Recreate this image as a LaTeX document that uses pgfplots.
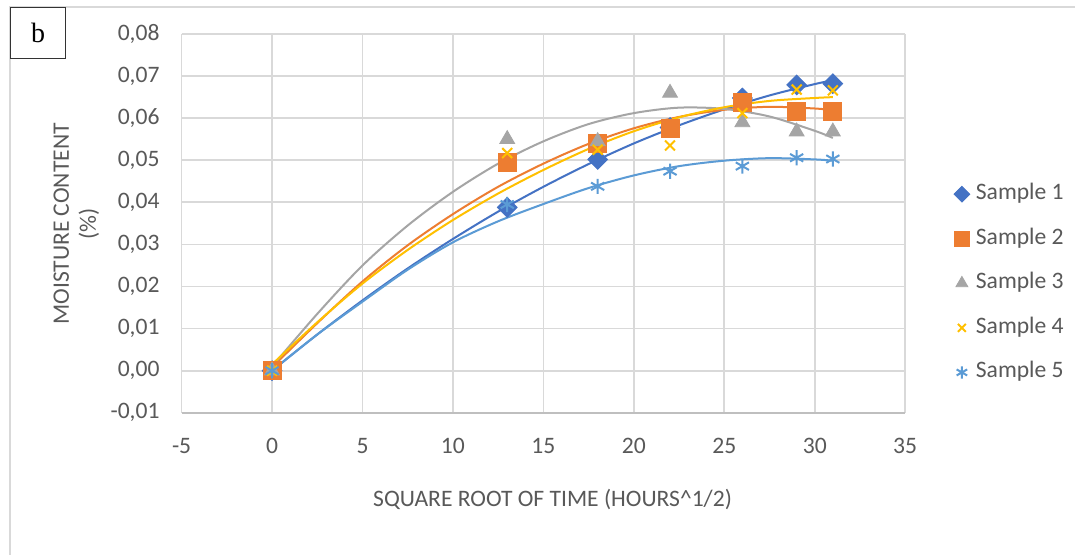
\documentclass[border=0pt]{standalone}
\usepackage{fontspec}
\setmainfont{Carlito}
\newfontfamily\seriffont{Liberation Serif}
\usepackage{pgfplots}
\pgfplotsset{compat=1.18}
\definecolor{sone}{HTML}{4472C4}
\definecolor{stwo}{HTML}{ED7D31}
\definecolor{sthree}{HTML}{A5A5A5}
\definecolor{sfour}{HTML}{FFC000}
\definecolor{sfive}{HTML}{5B9BD5}
\definecolor{textc}{HTML}{595959}
\definecolor{gridc}{HTML}{D9D9D9}
\definecolor{axisc}{HTML}{BFBFBF}
\pgfplotsset{mklegend/.style={legend image code/.code={\draw[##1, every mark/.append style={scale=0.8}] plot coordinates {(0pt,0pt)};\path[draw=none, fill=none] (-5pt,0pt) -- (7pt,0pt);}}}
\begin{document}
\begin{tikzpicture}
\fill[white] (0,0) rectangle (538pt,-277.5pt);
\draw[gridc, line width=0.6pt] (5pt,-277.5pt) -- (5pt,-3.5pt) -- (538pt,-3.5pt);
\node[draw=black!80, line width=0.6pt, fill=white, minimum width=27.5pt, minimum height=25.5pt, anchor=north west, inner sep=0pt] at (5pt,-3.5pt) {\seriffont\fontsize{14}{16}\selectfont b};
\node[rotate=90, align=center, text=textc, font=\fontsize{11.8}{13.5}\selectfont, inner sep=0pt] at (38.25pt,-112pt) {MOISTURE CONTENT\\(\%)};
\begin{axis}[
  scale only axis, width=362pt, height=189.5pt,
  at={(90.85pt,-206.5pt)}, anchor=south west,
  xmin=-5, xmax=35, ymin=-0.01, ymax=0.08,
  xtick={-5,0,5,10,15,20,25,30,35},
  ytick={-0.01,0,0.01,0.02,0.03,0.04,0.05,0.06,0.07,0.08},
  scaled y ticks=false,
  axis x line*=bottom, axis y line*=left,
  x axis line style={draw=axisc, line width=0.9pt},
  y axis line style={draw=none},
  major tick length=0pt,
  grid=major, major grid style={draw=gridc, line width=0.9pt},
  /pgf/number format/assume math mode=true,
  ticklabel style={font=\fontsize{11.8}{14}\selectfont, text=textc, inner sep=0pt},
  yticklabel style={anchor=east, xshift=-10.85pt, /pgf/number format/fixed, /pgf/number format/fixed zerofill, /pgf/number format/precision=2, /pgf/number format/use comma},
  xticklabel style={anchor=north, yshift=-12.5pt},
  xlabel={SQUARE ROOT OF TIME (HOURS\textasciicircum 1/2)},
  xlabel style={at={(axis description cs:0.5,0)}, anchor=north, yshift=-38.2pt, xshift=4.6pt, inner sep=0pt, font=\fontsize{11.8}{14}\selectfont, text=textc},
  legend style={at={(1.064,0.606)}, anchor=north west, draw=none, fill=none, inner sep=0pt, row sep=11.8pt,
    font=\fontsize{11.8}{14}\selectfont, text=textc,
    nodes={inner sep=0pt, text height=8pt, text depth=2.5pt}},
  legend cell align=left,
  clip=false,
]
\addplot[only marks, mklegend, mark=square*, mark size=3.5pt, mark options={rotate=45, fill=sone, draw=sone}] coordinates {
(0,0) (13,0.0388) (18,0.0502) (22,0.0578) (26,0.0648) (29,0.0679) (31,0.0682)};
\addlegendentry{Sample 1}
\addplot[only marks, mklegend, mark=square*, mark size=4.5pt, mark options={fill=stwo, draw=stwo}] coordinates {
(0,0) (13,0.0496) (18,0.0540) (22,0.0576) (26,0.0637) (29,0.0616) (31,0.0616)};
\addlegendentry{Sample 2}
\addplot[only marks, mklegend, mark=triangle*, mark size=4.3pt, mark options={fill=sthree, draw=sthree}] coordinates {
(0,0) (13,0.0550) (18,0.0545) (22,0.0660) (26,0.0590) (29,0.0568) (31,0.0568)};
\addlegendentry{Sample 3}
\addplot[only marks, mklegend, mark=x, mark size=3.5pt, mark options={draw=sfour, line width=1pt}] coordinates {
(0,0) (13,0.0517) (18,0.0525) (22,0.0535) (26,0.0612) (29,0.0668) (31,0.0666)};
\addlegendentry{Sample 4}
\addplot[only marks, mklegend, mark=asterisk, mark size=3.8pt, mark options={draw=sfive, line width=1pt}] coordinates {
(0,0) (13,0.0395) (18,0.0438) (22,0.0474) (26,0.0486) (29,0.0506) (31,0.0503)};
\addlegendentry{Sample 5}
% trendlines
\addplot[forget plot, sone, line width=1pt, smooth, no marks] coordinates {
(0,0) (2.5,0.0086) (5,0.0167) (7.5,0.0243) (10,0.0313) (12.5,0.0378) (15,0.0437) (17.5,0.0491) (20,0.0540) (22.5,0.0583) (25,0.0621) (27.5,0.0654) (30,0.0681) (31,0.0690)};
\addplot[forget plot, stwo, line width=1pt, smooth, no marks] coordinates {
(0,0.0008) (2.5,0.0113) (5,0.0212) (7.5,0.0298) (10,0.0372) (12.5,0.0437) (15,0.0492) (17.5,0.0539) (20,0.0576) (22.5,0.0603) (25,0.0620) (27.5,0.0627) (30,0.0623) (31,0.0619)};
\addplot[forget plot, sthree, line width=1pt, smooth, no marks] coordinates {
(0,0.0010) (2.5,0.0135) (5,0.0250) (7.5,0.0345) (10,0.0425) (12.5,0.0492) (15,0.0545) (17.5,0.0586) (20,0.0612) (22.5,0.0625) (25,0.0622) (27.5,0.0604) (30,0.0570) (31,0.0553)};
\addplot[forget plot, sfour, line width=1pt, smooth, no marks] coordinates {
(0,0.0015) (2.5,0.0115) (5,0.0207) (7.5,0.0287) (10,0.0358) (12.5,0.0421) (15,0.0477) (17.5,0.0527) (20,0.0569) (22.5,0.0602) (25,0.0626) (27.5,0.0641) (30,0.0648) (31,0.0650)};
\addplot[forget plot, sfive, line width=1pt, smooth, no marks] coordinates {
(0,0) (2.5,0.0086) (5,0.0164) (7.5,0.0240) (10,0.0305) (12.5,0.0355) (15,0.0396) (17.5,0.0434) (20,0.0464) (22.5,0.0486) (25,0.0499) (27.5,0.0505) (30,0.0502) (31,0.0499)};
\end{axis}
\end{tikzpicture}
\end{document}
